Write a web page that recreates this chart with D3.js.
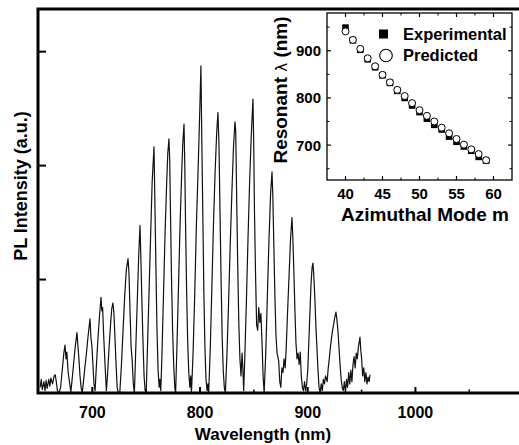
<!DOCTYPE html>
<html>
<head>
<meta charset="utf-8">
<script src="https://cdn.jsdelivr.net/npm/d3@7"></script>
<style>
  body { margin: 0; background: #fff; }
  svg { display: block; font-family: "Liberation Sans", Arial, sans-serif; font-weight: bold; }
</style>
</head>
<body>
<script>
// PL spectrum: wavelength (nm) and intensity (a.u.)
var wavelength = [652, 653, 654, 655.5, 656.5, 657.5, 658.5, 660, 661, 662, 663.5, 665, 666, 667, 668, 669.5,
  671, 672.5, 674, 675.1, 676, 676.8, 678, 679.5, 680.5, 681.5, 683, 684.5, 686.2, 687, 688, 689, 690, 691,
  692, 693.5, 695, 696.5, 698.3, 699.2, 700, 701, 702, 703, 704, 705.5, 707, 708.5, 709.3, 710, 711, 712.5,
  713.5, 714.5, 716, 717.5, 718.5, 719.6, 720.5, 721.5, 722.5, 723.5, 724.5, 726, 727.5, 729, 730.5, 732,
  733.6, 734.5, 735.5, 736.5, 737.5, 738.5, 739.5, 740.5, 742, 743.5, 744.7, 745.5, 746.5, 747.5, 748.5,
  749.5, 750.5, 751.5, 753, 754.5, 756, 757.7, 758.5, 759.5, 760.5, 761.5, 762.5, 763.2, 764, 765, 766.5,
  768, 769.5, 770.5, 771.6, 772.3, 773, 774, 775, 776, 777, 777.8, 779, 780.5, 782, 783.5, 784.5, 785.6,
  786.3, 787, 788, 789, 790, 791, 791.8, 792.5, 794, 795.5, 797, 798.5, 800, 801.3, 802, 803, 804, 805, 806,
  807, 807.8, 808.5, 810, 811.5, 813, 814.5, 816, 817.1, 818, 819, 820, 821, 822, 823, 824, 825.5, 827,
  828.5, 830, 831.5, 832.9, 833.6, 834.5, 835.5, 836.5, 837.5, 838.5, 839.5, 840.3, 841, 842, 843.5, 845,
  846.5, 848, 849.6, 850.3, 851, 852, 853, 854, 855, 856, 857, 858, 859, 860, 861.5, 863, 864.5, 866, 867.3,
  868, 869, 870, 871, 872, 873.5, 874.5, 875.5, 876.5, 877.5, 878.5, 879.5, 880.5, 881.5, 883, 884.5, 885.8,
  886.5, 887.5, 888.5, 889.5, 890.5, 891.5, 892.5, 893.5, 894.5, 895.5, 896.5, 897.5, 898.5, 899.5, 900.5,
  901.5, 902.5, 903.5, 904.5, 905.3, 906, 907, 908, 909, 910, 911, 912, 913, 914, 915, 916, 917, 918.5,
  919.5, 920.5, 921.5, 922.5, 923.5, 924.5, 925.5, 926.7, 927.5, 928.5, 929.5, 930.5, 931.5, 932.5, 933.5,
  934.5, 935.5, 936.5, 937.5, 938.5, 939.5, 940.5, 941.5, 942.5, 943.5, 944.5, 945.5, 946.5, 947.5, 948.3,
  949, 949.7, 950.5, 951.5, 952.5, 953.5, 954.5, 955.5, 956.5, 957.5, 958.3];
var intensity = [0.05, 0.12, 0.03, 0.10, 0.02, 0.11, 0.04, 0.12, 0.06, 0.13, 0.08, 0.15, 0.16, 0.10, 0.02, 0.0,
  0.05, 0.20, 0.35, 0.42, 0.30, 0.36, 0.18, 0.08, 0.01, 0.10, 0.25, 0.40, 0.53, 0.42, 0.30, 0.15, 0.05, 0.0,
  0.08, 0.22, 0.35, 0.50, 0.65, 0.48, 0.42, 0.25, 0.08, 0.02, 0.20, 0.45, 0.66, 0.84, 0.72, 0.75, 0.50, 0.20,
  0.02, 0.15, 0.40, 0.62, 0.74, 0.79, 0.70, 0.48, 0.25, 0.05, 0.0, 0.01, 0.25, 0.55, 0.85, 1.08,
  1.18, 1.05, 0.70, 0.40, 0.28, 0.08, 0.0, 0.30, 0.75, 1.20, 1.47, 1.20, 0.80, 0.45, 0.15,
  0.02, 0.0, 0.35, 0.85, 1.35, 1.85, 2.16, 1.70, 1.10, 0.55, 0.20, 0.05, 0.12, 0.02, 0.30, 0.85,
  1.40, 1.85, 2.10, 2.23, 2.05, 1.60, 1.00, 0.55, 0.25, 0.05, 0.0, 0.40, 0.95, 1.50, 1.95, 2.20, 2.36,
  2.00, 1.50, 0.90, 0.45, 0.18, 0.05, 0.15, 0.0, 0.35, 0.85, 1.45, 1.90, 2.40, 2.87, 2.30, 1.60, 0.90, 0.40, 0.12,
  0.02, 0.08, 0.0, 0.40, 0.95, 1.50, 1.95, 2.30, 2.46, 2.20, 1.60, 1.00, 0.50, 0.20, 0.05, 0.0, 0.35, 0.80,
  1.30, 1.75, 2.15, 2.38, 2.30, 1.70, 1.10, 0.60, 0.30, 0.15, 0.35, 0.20, 0.02, 0.30, 0.80, 1.35,
  1.85, 2.25, 2.58, 2.20, 1.60, 1.05, 0.60, 0.55, 0.75, 0.62, 0.70, 0.45, 0.15, 0.0, 0.35, 0.85, 1.35, 1.75, 1.94,
  1.75, 1.30, 0.85, 0.50, 0.35, 0.28, 0.10, 0.05, 0.22, 0.18, 0.30, 0.22, 0.40, 0.65, 1.00, 1.35, 1.54,
  1.40, 1.10, 0.75, 0.45, 0.30, 0.35, 0.25, 0.36, 0.15, 0.05, 0.02, 0.10, 0.02, 0.08, 0.20,
  0.45, 0.70, 0.95, 1.10, 1.14, 1.05, 0.85, 0.60, 0.40, 0.20, 0.05, 0.0, 0.08, 0.02, 0.12, 0.08, 0.15, 0.10,
  0.22, 0.30, 0.40, 0.48, 0.55, 0.60, 0.66, 0.71, 0.65, 0.55, 0.40, 0.25, 0.12, 0.05, 0.02,
  0.10, 0.0, 0.12, 0.05, 0.18, 0.08, 0.20, 0.10, 0.25, 0.32, 0.22, 0.35, 0.30, 0.40, 0.45,
  0.49, 0.38, 0.30, 0.15, 0.22, 0.10, 0.18, 0.08, 0.14, 0.10, 0.16];

// inset: resonant wavelength vs azimuthal mode number
var modeM = [40, 41, 42, 43, 44, 45, 46, 47, 48, 49, 50, 51, 52, 53, 54, 55, 56, 57, 58, 59];
var experimental = [949, 922, 902, 882, 865, 848, 832, 815, 800, 784, 770, 756, 743, 733, 718, 707, 697, 688, 675, 667];
var predicted = [941, 923, 904, 884, 867, 849, 833, 817, 804, 789, 774, 762, 750, 737, 725, 713, 701, 691, 681, 668];

var xTicks = [700, 800, 900, 1000];
var yTicks = [1, 2, 3];
var insetXTicks = [40, 45, 50, 55, 60];
var insetYTicks = [700, 800, 900];

var W = 519, H = 445;
var svg = d3.select("body").append("svg").attr("width", W).attr("height", H);

// main plot
var x = d3.scaleLinear().domain([650, 1100]).range([38, 522.6]);
var y = d3.scaleLinear().domain([0, 3.37]).range([393, 9]);

svg.append("clipPath").attr("id", "clip").append("rect")
  .attr("x", 38).attr("y", 9).attr("width", 485).attr("height", 384);

var pts = wavelength.map(function (d, i) { return [d, intensity[i]]; });
svg.append("path")
  .datum(pts)
  .attr("clip-path", "url(#clip)")
  .attr("fill", "none")
  .attr("stroke", "#111")
  .attr("stroke-width", 1.2)
  .attr("stroke-linejoin", "round")
  .attr("d", d3.line().x(function (d) { return x(d[0]); }).y(function (d) { return y(d[1]); }));

// x axis: inward ticks, labels below
var xAxis = d3.axisBottom(x).tickValues(xTicks).tickSizeInner(-6).tickSizeOuter(0).tickFormat(d3.format("d"));
var gx = svg.append("g").attr("transform", "translate(0,393)").call(xAxis);
gx.select(".domain").remove();
gx.selectAll(".tick line").attr("stroke-width", 2);
gx.selectAll(".tick text").attr("y", 25).attr("dy", 0).attr("font-size", 16)
  .attr("font-family", "Liberation Sans, Arial, sans-serif").attr("font-weight", "bold").attr("fill", "#000");
var gxm = svg.append("g").attr("transform", "translate(0,393)")
  .call(d3.axisBottom(x).tickValues([750, 850, 950, 1050]).tickSizeInner(-3.5).tickSizeOuter(0).tickFormat(""));
gxm.select(".domain").remove();
gxm.selectAll(".tick line").attr("stroke-width", 1.5);

var gy = svg.append("g").attr("transform", "translate(38,0)")
  .call(d3.axisLeft(y).tickValues(yTicks).tickSizeInner(-8).tickSizeOuter(0).tickFormat(""));
gy.select(".domain").remove();
gy.selectAll(".tick line").attr("stroke-width", 2);

// frame (right side falls outside the picture)
svg.append("path")
  .attr("d", "M523,9H38V393H523")
  .attr("fill", "none").attr("stroke", "#000").attr("stroke-width", 3);

svg.append("text").attr("x", 263).attr("y", 440).attr("text-anchor", "middle")
  .attr("font-size", 17).text("Wavelength (nm)");
svg.append("text").attr("transform", "translate(27,186) rotate(-90)").attr("text-anchor", "middle")
  .attr("font-size", 18).text("PL Intensity (a.u.)");

// inset
var ix = d3.scaleLinear().domain([37.5, 62.5]).range([327, 512]);
var iy = d3.scaleLinear().domain([626, 980]).range([180, 13]);
var inset = svg.append("g");

inset.append("rect").attr("x", 327).attr("y", 13).attr("width", 185).attr("height", 167)
  .attr("fill", "#fff").attr("stroke", "#000").attr("stroke-width", 1.3);

function tickLines(g, vals, len, w) {
  vals.forEach(function (v) {
    g.append("line").attr("x1", ix(v)).attr("x2", ix(v)).attr("y1", 180).attr("y2", 180 - len)
      .attr("stroke", "#000").attr("stroke-width", w);
    g.append("line").attr("x1", ix(v)).attr("x2", ix(v)).attr("y1", 13).attr("y2", 13 + len)
      .attr("stroke", "#000").attr("stroke-width", w);
  });
}
function tickLinesY(g, vals, len, w) {
  vals.forEach(function (v) {
    g.append("line").attr("x1", 327).attr("x2", 327 + len).attr("y1", iy(v)).attr("y2", iy(v))
      .attr("stroke", "#000").attr("stroke-width", w);
    g.append("line").attr("x1", 512).attr("x2", 512 - len).attr("y1", iy(v)).attr("y2", iy(v))
      .attr("stroke", "#000").attr("stroke-width", w);
  });
}
tickLines(inset, insetXTicks, 4, 1.2);
tickLines(inset, [42.5, 47.5, 52.5, 57.5], 2.5, 1);
tickLinesY(inset, insetYTicks, 4, 1.2);
tickLinesY(inset, [650, 750, 850, 950], 2.5, 1);

inset.selectAll("text.ixl").data(insetXTicks).enter().append("text").attr("class", "ixl")
  .attr("x", function (d) { return ix(d); }).attr("y", 199).attr("text-anchor", "middle")
  .attr("font-size", 15).text(function (d) { return d; });
inset.selectAll("text.iyl").data(insetYTicks).enter().append("text").attr("class", "iyl")
  .attr("x", 321).attr("y", function (d) { return iy(d) + 5.5; }).attr("text-anchor", "end")
  .attr("font-size", 15).text(function (d) { return d; });

inset.selectAll("rect.exp").data(modeM).enter().append("rect").attr("class", "exp")
  .attr("x", function (d) { return ix(d) - 3.3; })
  .attr("y", function (d, i) { return iy(experimental[i]) - 3.3; })
  .attr("width", 6.6).attr("height", 6.6).attr("fill", "#000");
inset.selectAll("circle.pred").data(modeM).enter().append("circle").attr("class", "pred")
  .attr("cx", function (d) { return ix(d); })
  .attr("cy", function (d, i) { return iy(predicted[i]); })
  .attr("r", 3.5).attr("fill", "#fff").attr("stroke", "#000").attr("stroke-width", 1);

// legend
inset.append("rect").attr("x", 379).attr("y", 29.5).attr("width", 9).attr("height", 9).attr("fill", "#000");
inset.append("text").attr("x", 403).attr("y", 40).attr("font-size", 16.5).text("Experimental");
inset.append("circle").attr("cx", 386).attr("cy", 55.5).attr("r", 6.3)
  .attr("fill", "#fff").attr("stroke", "#000").attr("stroke-width", 1.1);
inset.append("text").attr("x", 403).attr("y", 61).attr("font-size", 16.5).text("Predicted");

inset.append("text").attr("x", 425).attr("y", 221).attr("text-anchor", "middle")
  .attr("font-size", 19).text("Azimuthal Mode m");
var yl = inset.append("text").attr("transform", "translate(287,90) rotate(-90)").attr("text-anchor", "middle")
  .attr("font-size", 19);
yl.append("tspan").text("Resonant ");
yl.append("tspan").attr("font-weight", "normal").attr("font-size", 15).attr("font-family", "DejaVu Sans").text("λ");
yl.append("tspan").text(" (nm)");
</script>
</body>
</html>
